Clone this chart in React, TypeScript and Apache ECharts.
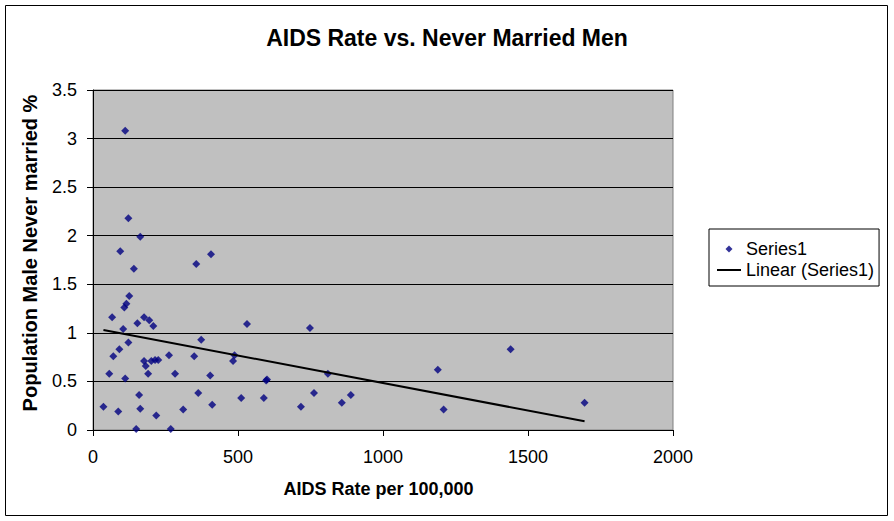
import React, { useEffect, useRef } from "react";
import * as echarts from "echarts";

const aidsRate: number[] = [
  111, 122, 163, 94, 407, 141, 356, 125, 115, 108,
  66, 176, 194, 208, 153, 104, 531, 373, 122, 91,
  70, 262, 349, 488, 483, 176, 182, 201, 214, 225,
  56, 190, 283, 404, 111, 597, 600, 159, 363, 36,
  163, 87, 311, 411, 511, 589, 218, 149, 268, 748,
  810, 762, 717, 858, 889, 1189, 1209, 1440, 1695,
];
const neverMarried: number[] = [
  3.08, 2.18, 1.99, 1.84, 1.81, 1.66, 1.71, 1.38, 1.3, 1.26,
  1.16, 1.16, 1.13, 1.07, 1.1, 1.04, 1.09, 0.93, 0.9, 0.83,
  0.76, 0.77, 0.76, 0.77, 0.71, 0.71, 0.66, 0.71, 0.72, 0.72,
  0.58, 0.58, 0.58, 0.56, 0.53, 0.51, 0.52, 0.36, 0.38, 0.24,
  0.22, 0.19, 0.21, 0.26, 0.33, 0.33, 0.15, 0.01, 0.01, 1.05,
  0.58, 0.38, 0.24, 0.28, 0.36, 0.62, 0.21, 0.83, 0.28,
];
const trendX: number[] = [36, 1695];
const trendY: number[] = [1.03, 0.09];

const FONT = "'Liberation Sans', Arial, sans-serif";
const DIAMOND_ICON = "path://M0,4L0,4M24,4L24,4M12,0.5L15.5,4L12,7.5L8.5,4Z";

export default function App() {
  const ref = useRef<HTMLDivElement>(null);
  useEffect(() => {
    if (!ref.current) return;
    const chart = echarts.init(ref.current, undefined, { renderer: "svg" });
    const scatterData = aidsRate.map((x, i) => [x, neverMarried[i]]);
    const trendData = trendX.map((x, i) => [x, trendY[i]]);
    chart.setOption({
      animation: false,
      backgroundColor: "#ffffff",
      textStyle: { fontFamily: FONT },
      title: {
        text: "AIDS Rate vs. Never Married Men",
        left: "center",
        top: 21,
        textStyle: { fontFamily: FONT, fontSize: 23, fontWeight: "bold", color: "#000" },
      },
      graphic: [
        {
          type: "rect",
          z: -10,
          silent: true,
          shape: { x: 5.5, y: 5.5, width: 882, height: 510 },
          style: { fill: "none", stroke: "#000", lineWidth: 1 },
        },
      ],
      legend: {
        orient: "vertical",
        left: 709,
        top: 229,
        padding: [11, 5, 7, 7],
        itemGap: 3,
        itemWidth: 24,
        itemHeight: 8,
        borderColor: "#000",
        borderWidth: 1,
        backgroundColor: "#fff",
        textStyle: { fontFamily: FONT, fontSize: 18, color: "#000", lineHeight: 18 },
        data: [
          { name: "Series1", icon: DIAMOND_ICON, itemStyle: { color: "#000080" } },
          { name: "Linear (Series1)", itemStyle: { opacity: 0 } },
        ],
      },
      grid: {
        left: 93,
        top: 90,
        right: 221,
        bottom: 91,
        show: true,
        backgroundColor: "#C0C0C0",
        borderColor: "#808080",
        borderWidth: 1,
      },
      xAxis: {
        type: "value",
        min: 0,
        max: 2000,
        interval: 500,
        name: "AIDS Rate per 100,000",
        nameLocation: "middle",
        nameGap: 50,
        nameTextStyle: { fontFamily: FONT, fontSize: 18, fontWeight: "bold", color: "#000", padding: [0, 9, 0, 0] },
        axisLine: { show: true, onZero: false, lineStyle: { color: "#000", width: 1 } },
        axisTick: { show: true, inside: false, length: 6, lineStyle: { color: "#000" } },
        axisLabel: {
          fontFamily: FONT,
          fontSize: 18,
          color: "#000",
          margin: 18,
          formatter: (v: number) => String(v),
        },
        splitLine: { show: false },
      },
      yAxis: {
        type: "value",
        min: 0,
        max: 3.5,
        interval: 0.5,
        name: "Population Male Never married %",
        nameLocation: "middle",
        nameGap: 53,
        nameRotate: 90,
        nameTextStyle: { fontFamily: FONT, fontSize: 20, fontWeight: "bold", color: "#000", padding: [0, 0, 0, 14] },
        axisLine: { show: true, onZero: false, lineStyle: { color: "#000", width: 1 } },
        axisTick: { show: true, inside: false, length: 6, lineStyle: { color: "#000" } },
        axisLabel: {
          fontFamily: FONT,
          fontSize: 18,
          color: "#000",
          margin: 16,
          padding: [5, 0, 0, 0],
          formatter: (v: number) => String(v),
        },
        splitLine: { show: true, lineStyle: { color: "#000", width: 1 } },
      },
      series: [
        {
          name: "Series1",
          type: "scatter",
          symbol: "diamond",
          symbolSize: 8,
          itemStyle: { color: "#000080" },
          data: scatterData,
          z: 3,
        },
        {
          name: "Linear (Series1)",
          type: "line",
          symbol: "none",
          showSymbol: false,
          lineStyle: { color: "#000", width: 2 },
          itemStyle: { color: "#000" },
          data: trendData,
          z: 4,
        },
      ],
    });
    return () => chart.dispose();
  }, []);
  return (
    <div
      ref={ref}
      style={{ position: "fixed", left: 0, top: 0, width: 894, height: 521 }}
    />
  );
}
